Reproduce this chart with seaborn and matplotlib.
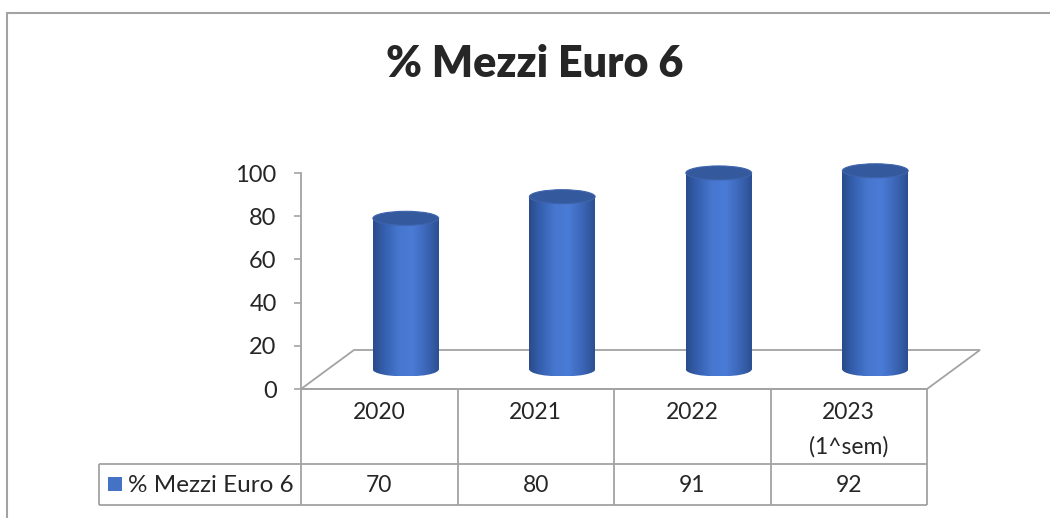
import matplotlib
matplotlib.use("Agg")
import matplotlib.pyplot as plt
import matplotlib.transforms as mtransforms
from matplotlib.colors import LinearSegmentedColormap
from matplotlib.lines import Line2D
from matplotlib.patches import Ellipse, Polygon, Rectangle
import numpy as np
import pandas as pd
import seaborn as sns

# data
years = ["2020", "2021", "2022", "2023\n(1^sem)"]
share = [70, 80, 91, 92]
series_name = "% Mezzi Euro 6"
y_ticks = [0, 20, 40, 60, 80, 100]

GRAY = "#a3a3a3"
BODY = "#4472c4"
TOP = "#35599d"
W, H = 1050, 518

sns.set_style("white")
plt.rcParams["font.family"] = ["Lato", "DejaVu Sans"]

fig = plt.figure(figsize=(W / 100, H / 100), dpi=100)
ax = fig.add_axes([301 / W, (H - 389) / H, (927 - 301) / W, 216 / H])

df = pd.DataFrame({"anno": years, "quota": share})
sns.barplot(data=df, x="anno", y="quota", ax=ax, width=0.42, color=BODY,
            saturation=1, zorder=2)

ax.set_xlim(-0.5, 3.5)
ax.set_ylim(0, 100)

# bars sit half way into the floor depth
half = mtransforms.ScaledTranslation(26.5 / 100, 19.5 / 100, fig.dpi_scale_trans)
mid = ax.transData + half
cap_h = 14 / 2.16  # ellipse height in data units

cyl_cmap = LinearSegmentedColormap.from_list(
    "cyl", ["#2a4b8b", "#3763b4", "#4777cf", "#4a7bd6", "#3d68b9", "#2c4f91"])
grad = np.linspace(0, 1, 256).reshape(1, -1)

for bar in list(ax.patches):
    bar.set_transform(mid)
    bar.set_clip_on(False)
    bar.set_edgecolor("none")
    x0, w, h = bar.get_x(), bar.get_width(), bar.get_height()
    xc = x0 + w / 2

    im = ax.imshow(grad, cmap=cyl_cmap, extent=[x0, x0 + w, 0, h],
                   aspect="auto", origin="lower", zorder=3, interpolation="bilinear")
    im.set_transform(mid)
    im.set_clip_path(bar)

    bottom = Ellipse((xc, 0), w, cap_h, transform=mid, facecolor="none",
                     edgecolor="none", clip_on=False)
    ax.add_patch(bottom)
    im2 = ax.imshow(grad, cmap=cyl_cmap, extent=[x0, x0 + w, -cap_h / 2, cap_h / 2],
                    aspect="auto", origin="lower", zorder=3, interpolation="bilinear")
    im2.set_transform(mid)
    im2.set_clip_box(None)
    im2.set_clip_path(bottom)

    ax.add_patch(Ellipse((xc, h), w, cap_h, transform=mid, facecolor=TOP,
                         edgecolor="#3e64ad", lw=0.8, zorder=4, clip_on=False))

ax.set_xlim(-0.5, 3.5)
ax.set_ylim(0, 100)

# floor of the 3d box
front = ax.transData.transform([(-0.5, 0), (3.5, 0)])
floor = np.vstack([front, front[::-1] + [53, 39]])
ax.add_patch(Polygon(floor, closed=True, transform=mtransforms.IdentityTransform(),
                     facecolor="white", edgecolor=GRAY, lw=1.3, zorder=1, clip_on=False))

# axes styling
for side in ["top", "right"]:
    ax.spines[side].set_visible(False)
for side in ["left", "bottom"]:
    ax.spines[side].set_color(GRAY)
    ax.spines[side].set_linewidth(1.3)
ax.set_yticks(y_ticks)
ax.tick_params(axis="y", length=5, width=1.2, color=GRAY, labelsize=17, pad=12.5,
               left=True)
ax.set_xticks(range(len(years)))
ax.set_xticklabels(years)
ax.tick_params(axis="x", length=0, pad=9.5, labelsize=16.5)
for lab in ax.get_xticklabels():
    lab.set_linespacing(1.75)
ax.set_xlabel("")
ax.set_ylabel("")
ax.patch.set_alpha(0)

# data table under the plot
def ax_y(py):
    return (389 - py) / 216

def ax_x(px):
    return (px - 301) / 626

xt = ax.get_xaxis_transform()
ax.vlines([-0.5, 0.5, 1.5, 2.5, 3.5], ax_y(505), 0, transform=xt, colors=GRAY,
          lw=1.3, clip_on=False)
ax.vlines([ax_x(99)], ax_y(505), ax_y(464), transform=ax.transAxes, colors=GRAY,
          lw=1.3, clip_on=False)
ax.hlines([ax_y(464), ax_y(505)], ax_x(99), 1, transform=ax.transAxes, colors=GRAY,
          lw=1.3, clip_on=False)
for i, v in enumerate(share):
    ax.text(i, ax_y(485), str(v), transform=xt, ha="center", va="center", fontsize=16.5)
ax.add_patch(Rectangle((ax_x(108), ax_y(491)), 14 / 626, 14 / 216,
                       transform=ax.transAxes, facecolor=BODY, edgecolor="none",
                       clip_on=False))
ax.text(ax_x(128), ax_y(485), series_name, transform=ax.transAxes, ha="left",
        va="center", fontsize=17.5)

# title and chart border
fig.text(535 / W, 1 - 77 / H, "% Mezzi Euro 6", ha="center", va="baseline",
         fontsize=31, fontweight="heavy")
fig.add_artist(Line2D([7 / W, 1], [1 - 13 / H, 1 - 13 / H], transform=fig.transFigure,
                      color=GRAY, lw=1.5))
fig.add_artist(Line2D([7 / W, 7 / W], [0, 1 - 13 / H], transform=fig.transFigure,
                      color=GRAY, lw=1.5))

fig.savefig("out.png", dpi=100, facecolor="white")
